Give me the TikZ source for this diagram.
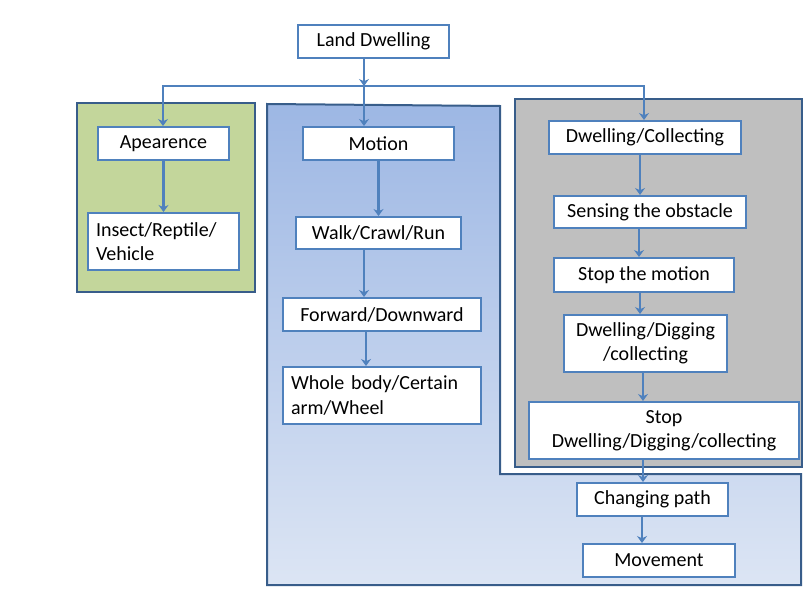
\documentclass[tikz,border=0pt]{standalone}
\usepackage{fontspec}
\setmainfont{Carlito}
\usetikzlibrary{arrows.meta}
\definecolor{boxline}{HTML}{4F81BD}
\definecolor{frameline}{HTML}{385D8A}
\definecolor{greenfill}{HTML}{C3D69B}
\definecolor{grayfill}{HTML}{BFBFBF}
\definecolor{bluetop}{HTML}{9DB7E4}
\definecolor{bluebot}{HTML}{DCE5F4}

\begin{document}
\begin{tikzpicture}[x=1pt, y=-1pt,
 box/.style={draw=boxline, line width=2pt, fill=white, inner sep=0pt, font=\fontsize{20}{24.5}\selectfont},
 arr/.style={draw=boxline, line width=2.6pt, -{Stealth[length=7pt,width=10pt]}},
 frame/.style={draw=frameline, line width=2pt}]

  \useasboundingbox (0,0) rectangle (810,605);

  % group frames
  \path[frame, fill=greenfill] (77,103) rectangle (255,292);
  \path[frame, top color=bluetop, bottom color=bluebot] (267,104) -- (500,106) -- (500,474) -- (801,474) -- (801,585) -- (267,585) -- cycle;
  \path[frame, fill=grayfill] (515,99) rectangle (802,467);

  \node[box, minimum width=151pt, minimum height=33pt] (land) at (373.5,41.5) {Land Dwelling};

  \node[box, minimum width=131pt, minimum height=33pt] (apear) at (163.5,143.5) {Apearence};
  \node[box, minimum width=151pt, minimum height=57pt, text width=135pt, align=left] (insect) at (163.5,241.5) {Insect/Reptile/\\Vehicle};

  \node[box, minimum width=151pt, minimum height=33pt] (motion) at (378.5,143.5) {Motion};
  \node[box, minimum width=165pt, minimum height=32pt] (walk) at (378.5,233) {Walk/Crawl/Run};
  \node[box, minimum width=198pt, minimum height=33pt] (fwd) at (382,314.5) {Forward/Downward};
  \node[box, minimum width=198pt, minimum height=57pt, text width=182pt, align=left] (whole) at (382,395.5) {Whole body/Certain\\arm/Wheel};

  \node[box, minimum width=192pt, minimum height=33pt] (dwcoll) at (645,137.5) {Dwelling/Collecting};
  \node[box, minimum width=192pt, minimum height=32pt] (sense) at (650,212) {Sensing the obstacle};
  \node[box, minimum width=180pt, minimum height=34pt] (stopmot) at (644,275) {Stop the motion};
  \node[box, minimum width=163pt, minimum height=57pt, align=center] (dwdig) at (645.5,343.5) {Dwelling/Digging\\/collecting};
  \node[box, minimum width=270pt, minimum height=57pt, align=center] (stop) at (664,430.5) {Stop\\Dwelling/Digging/collecting};
  \node[box, minimum width=151pt, minimum height=33pt] (change) at (652.5,499.5) {Changing path};
  \node[box, minimum width=152pt, minimum height=33pt] (move) at (659,560.5) {Movement};

  \coordinate (jl) at (163,86);
  \coordinate (jm) at (364,86);
  \coordinate (jr) at (644,86);
  \draw[arr] ([xshift=-9.5pt]land.south) -- (jm);
  \draw[arr] (jl) -- (jr) -- (jr |- dwcoll.north);
  \draw[arr, line cap=rect] (jl) -- (jl |- apear.north);
  \draw[arr] (jm) -- (jm |- motion.north);

  \foreach \s/\t/\d in {apear/insect/0, motion/walk/0, walk/fwd/-14.5, fwd/whole/-16, dwcoll/sense/-5, sense/stopmot/-11, stopmot/dwdig/-4, dwdig/stop/-2.5, stop/change/-21, change/move/-10.5} {
   \draw[arr] ([xshift=\d pt]\s.south) -- ([xshift=\d pt]\s.south |- \t.north);}
\end{tikzpicture}
\end{document}
